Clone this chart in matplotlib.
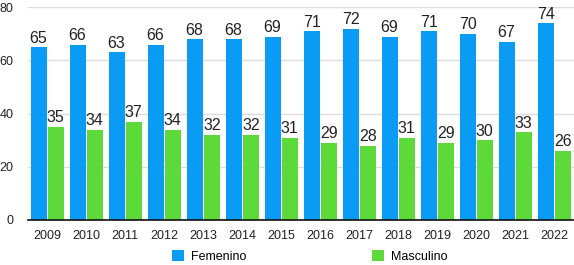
import matplotlib
matplotlib.use("Agg")
import matplotlib.pyplot as plt
import numpy as np

years = ["2009","2010","2011","2012","2013","2014","2015","2016","2017","2018","2019","2020","2021","2022"]
femenino = [65,66,63,66,68,68,69,71,72,69,71,70,67,74]
masculino = [35,34,37,34,32,32,31,29,28,31,29,30,33,26]

blue = "#0A9BF5"
green = "#5ED93A"

plt.rcParams['font.family'] = ['Liberation Sans', 'DejaVu Sans']
fig = plt.figure(figsize=(5.74, 2.65), dpi=100)
ax = fig.add_axes([27.7/574, 45/265, 546/574, 212.7/265])

x = np.arange(len(years))
w = 0.41
b1 = ax.bar(x - 0.22, femenino, w, color=blue, label="Femenino", zorder=3)
b2 = ax.bar(x + 0.22, masculino, w, color=green, label="Masculino", zorder=3)
for bars, vals in ((b1, femenino), (b2, masculino)):
    for r, v in zip(bars, vals):
        ax.text(r.get_x() + r.get_width()/2, v + 0.6, str(v), ha="center", va="bottom", fontsize=11.5, color="#222222")

ax.set_xlim(-0.5, len(years) - 0.5)
ax.set_ylim(0, 80)
ax.set_yticks([0, 20, 40, 60, 80])
ax.set_xticks(x)
ax.set_xticklabels(years)
ax.tick_params(axis="both", length=0, labelsize=9, colors="#222222")
ax.tick_params(axis="y", pad=10)
ax.tick_params(axis="x", pad=7)
ax.grid(axis="y", color="#DDDDDD", linewidth=1, zorder=0)
for s in ["left", "right", "top"]:
    ax.spines[s].set_visible(False)
ax.spines["bottom"].set_color("#111111")
ax.spines["bottom"].set_linewidth(1.2)
ax.spines["bottom"].set_zorder(4)

fig.legend(handles=[b1, b2], loc="center left", bbox_to_anchor=(172/574, 8.5/265), ncol=2,
           frameon=False, fontsize=9, handlelength=0.98, handleheight=0.98,
           columnspacing=10.0, handletextpad=0.56, borderpad=0, borderaxespad=0)

fig.savefig("out.png", dpi=100)
